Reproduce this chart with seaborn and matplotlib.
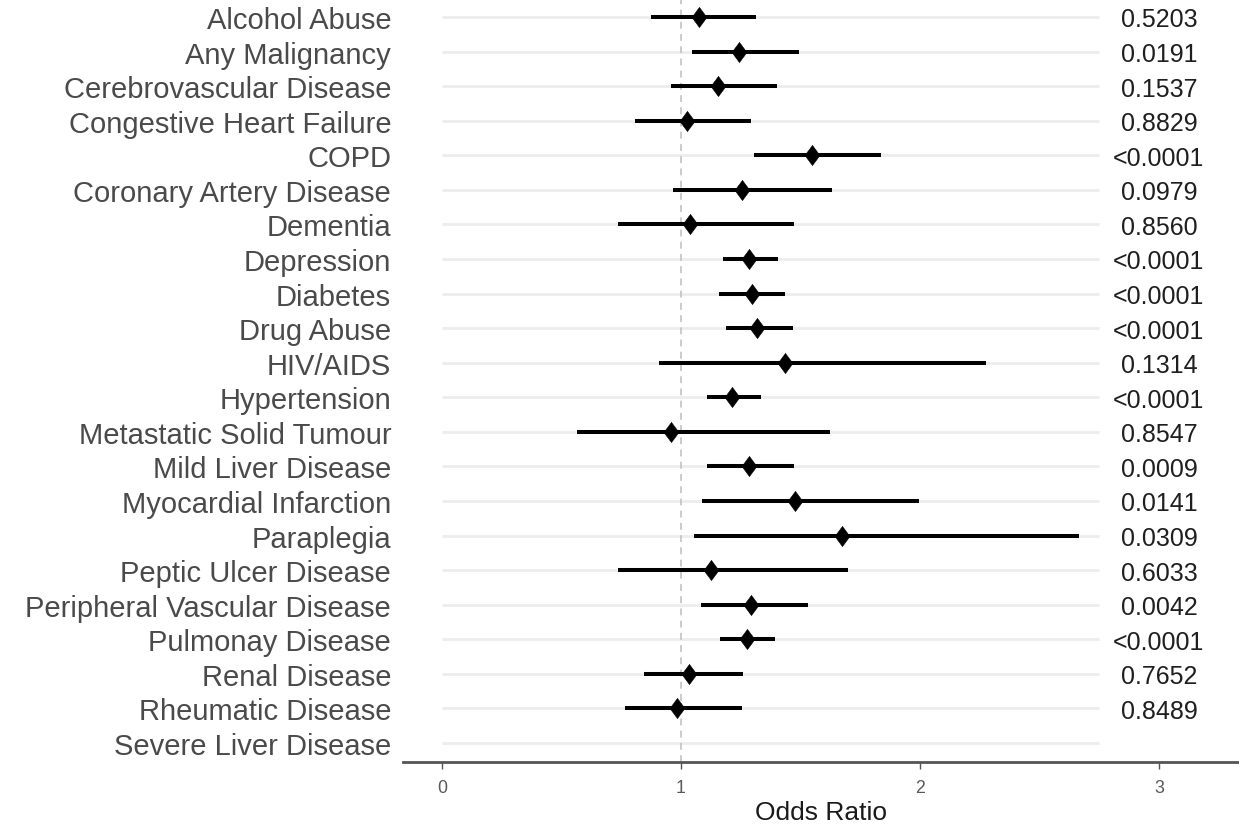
import numpy as np
import pandas as pd
import matplotlib
matplotlib.use("Agg")
import matplotlib.pyplot as plt
import seaborn as sns

conditions = ["Alcohol Abuse", "Any Malignancy", "Cerebrovascular Disease",
              "Congestive Heart Failure", "COPD", "Coronary Artery Disease",
              "Dementia", "Depression", "Diabetes", "Drug Abuse", "HIV/AIDS",
              "Hypertension", "Metastatic Solid Tumour", "Mild Liver Disease",
              "Myocardial Infarction", "Paraplegia", "Peptic Ulcer Disease",
              "Peripheral Vascular Disease", "Pulmonay Disease", "Renal Disease",
              "Rheumatic Disease", "Severe Liver Disease"]
odds_ratio = [1.075, 1.243, 1.155, 1.025, 1.548, 1.257, 1.036, 1.285, 1.296, 1.317,
              1.435, 1.215, 0.957, 1.285, 1.477, 1.672, 1.126, 1.295, 1.275, 1.033,
              0.983, np.nan]
ci_low = [0.875, 1.046, 0.958, 0.808, 1.305, 0.965, 0.735, 1.177, 1.159, 1.187,
          0.908, 1.107, 0.566, 1.107, 1.088, 1.053, 0.738, 1.085, 1.164, 0.845,
          0.767, np.nan]
ci_high = [1.314, 1.494, 1.402, 1.293, 1.837, 1.633, 1.474, 1.404, 1.435, 1.470,
           2.276, 1.333, 1.625, 1.474, 1.996, 2.667, 1.701, 1.533, 1.394, 1.259,
           1.254, np.nan]
p_values = ["0.5203", "0.0191", "0.1537", "0.8829", "<0.0001", "0.0979", "0.8560",
            "<0.0001", "<0.0001", "<0.0001", "0.1314", "<0.0001", "0.8547", "0.0009",
            "0.0141", "0.0309", "0.6033", "0.0042", "<0.0001", "0.7652", "0.8489", ""]
x_ticks = [0, 1, 2, 3]

df = pd.DataFrame({"condition": conditions, "OR": odds_ratio,
                   "lo": ci_low, "hi": ci_high, "p": p_values})
df["pos"] = np.arange(len(df))

sns.set_theme(style="white")
plt.rcParams["font.family"] = ["Liberation Sans", "DejaVu Sans"]

fig = plt.figure(figsize=(12.39, 8.29), dpi=100)
ax = fig.add_axes([403 / 1239, 66 / 829, 836 / 1239, 763 / 829])

# light horizontal guide lines
ax.hlines(df["pos"], 0, 2.75, color="#ededed", lw=2.0, zorder=0)
# reference line
ax.axvline(1, color="#bdbdbd", lw=1.1, dashes=(4.5, 3.5), zorder=1)
# confidence intervals
ok = df.dropna()
ax.hlines(ok["pos"], ok["lo"], ok["hi"], color="black", lw=2.9, zorder=2,
          capstyle="butt")
diamond = [(0, 1), (0.74, 0), (0, -1), (-0.74, 0), (0, 1)]
sns.scatterplot(data=ok, x="OR", y="pos", marker=diamond, s=210, color="black",
                edgecolor="black", linewidth=0.4, ax=ax, zorder=3, legend=False)

# p-values
for _, r in df.iterrows():
    ax.text(3.0, r["pos"], r["p"], ha="center", va="center_baseline", fontsize=18,
            color="#1f1f1f")

ax.set_xlim(-0.163, 3.335)
ax.set_ylim(21.55, -0.52)
ax.set_yticks(df["pos"])
ax.set_yticklabels(df["condition"], fontsize=21.0, color="#4a4a4a",
                   va="center_baseline")
ax.set_xticks(x_ticks)
ax.set_xticklabels([str(t) for t in x_ticks], fontsize=12.8, color="#5a5a5a")
ax.tick_params(axis="y", length=0, pad=8.5)
ax.tick_params(axis="x", length=5, width=1, color="#555555", pad=7, direction="out",
               bottom=True)
ax.set_xlabel("Odds Ratio", fontsize=19, color="#1a1a1a", labelpad=3)
ax.set_ylabel("")
for s in ["top", "right", "left"]:
    ax.spines[s].set_visible(False)
ax.spines["bottom"].set_color("#555555")
ax.spines["bottom"].set_linewidth(2)
ax.grid(False)

fig.savefig("out.png", dpi=100)
